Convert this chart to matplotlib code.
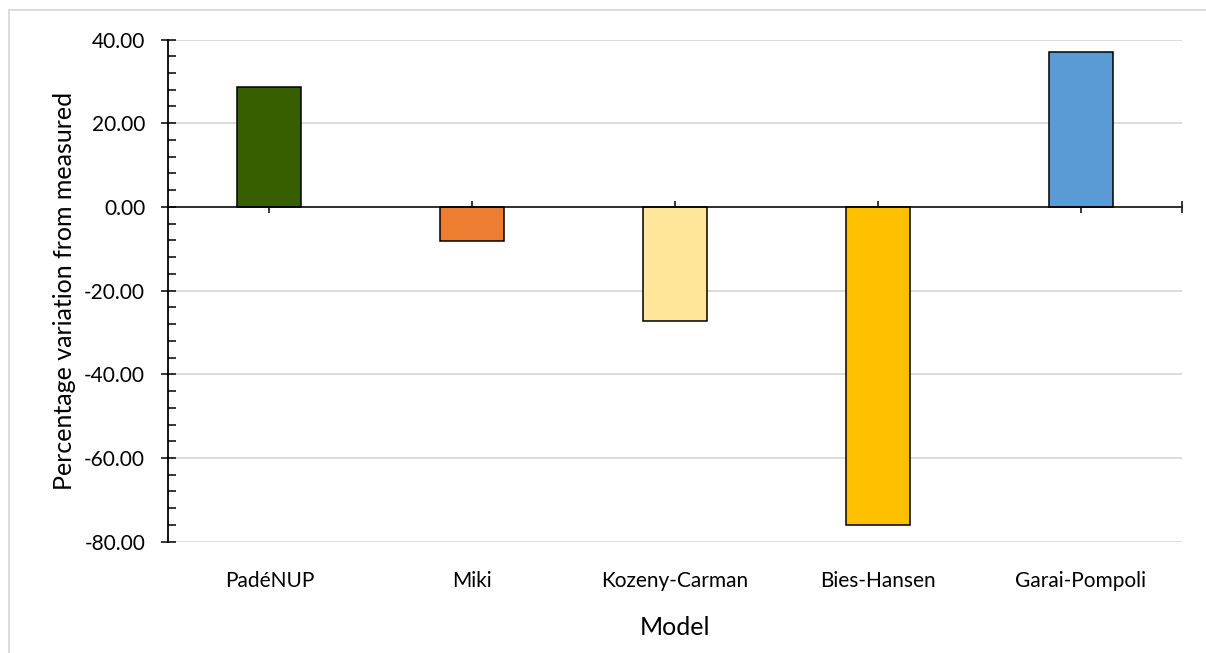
import matplotlib
matplotlib.use("Agg")
import matplotlib.pyplot as plt
from matplotlib.ticker import MultipleLocator, FixedLocator, FuncFormatter
from matplotlib.lines import Line2D

models = ["PadéNUP", "Miki", "Kozeny-Carman", "Bies-Hansen", "Garai-Pompoli"]
variation = [28.6, -8.2, -27.3, -76.1, 37.1]
bar_colors = ["#375F00", "#ED7D31", "#FFE699", "#FFC000", "#5B9BD5"]
y_ticks = [40, 20, 0, -20, -40, -60, -80]

plt.rcParams["font.family"] = ["Lato", "DejaVu Sans"]

fig = plt.figure(figsize=(12.06, 6.53), dpi=100)
ax = fig.add_axes([168 / 1206, 1 - 541.7 / 653, (1182 - 168) / 1206, (541.7 - 39.5) / 653])

x = list(range(len(models)))
ax.bar(x, variation, width=0.316, color=bar_colors, edgecolor="black",
       linewidth=1.1, zorder=3)

ax.set_xlim(-0.5, len(models) - 0.5)
ax.set_ylim(-80, 40)

# y axis: majors crossing the spine, minors pointing inward
ax.yaxis.set_major_locator(FixedLocator(y_ticks))
ax.yaxis.set_minor_locator(MultipleLocator(4))
ax.yaxis.set_major_formatter(FuncFormatter(lambda v, _: f"{v:.2f}"))
ax.tick_params(axis="y", which="major", direction="inout", length=10.8,
               width=1.1, labelsize=15, pad=11, colors="black")
ax.tick_params(axis="y", which="minor", direction="in", length=5.8,
               width=1.1)
ax.grid(axis="y", color="#D9D9D9", linewidth=1.3, zorder=0)

# category axis drawn along zero
ax.spines["bottom"].set_position(("data", 0))
ax.spines["bottom"].set_linewidth(1.1)
ax.spines["bottom"].set_zorder(4)
ax.spines["left"].set_linewidth(1.3)
ax.spines["top"].set_visible(False)
ax.spines["right"].set_visible(False)
ax.xaxis.set_major_locator(FixedLocator(x + [len(models) - 0.5]))
ax.tick_params(axis="x", which="major", direction="inout", length=8,
               width=1.1, labelbottom=False)

sec = ax.secondary_xaxis("bottom")
sec.set_xticks(x)
sec.set_xticklabels(models)
sec.tick_params(axis="x", length=0, pad=21, labelsize=15)
sec.spines["bottom"].set_visible(False)
sec.set_xlabel("Model", fontsize=18, labelpad=18)

ax.set_ylabel("Percentage variation from measured", fontsize=18, labelpad=6)

# chart-area frame
fig.add_artist(Line2D([9 / 1206, 9 / 1206], [0, 1 - 10 / 653], transform=fig.transFigure,
                      color="#D9D9D9", linewidth=1.3))
fig.add_artist(Line2D([9 / 1206, 1], [1 - 10 / 653, 1 - 10 / 653], transform=fig.transFigure,
                      color="#D9D9D9", linewidth=1.3))

fig.savefig("out.png", dpi=100)
